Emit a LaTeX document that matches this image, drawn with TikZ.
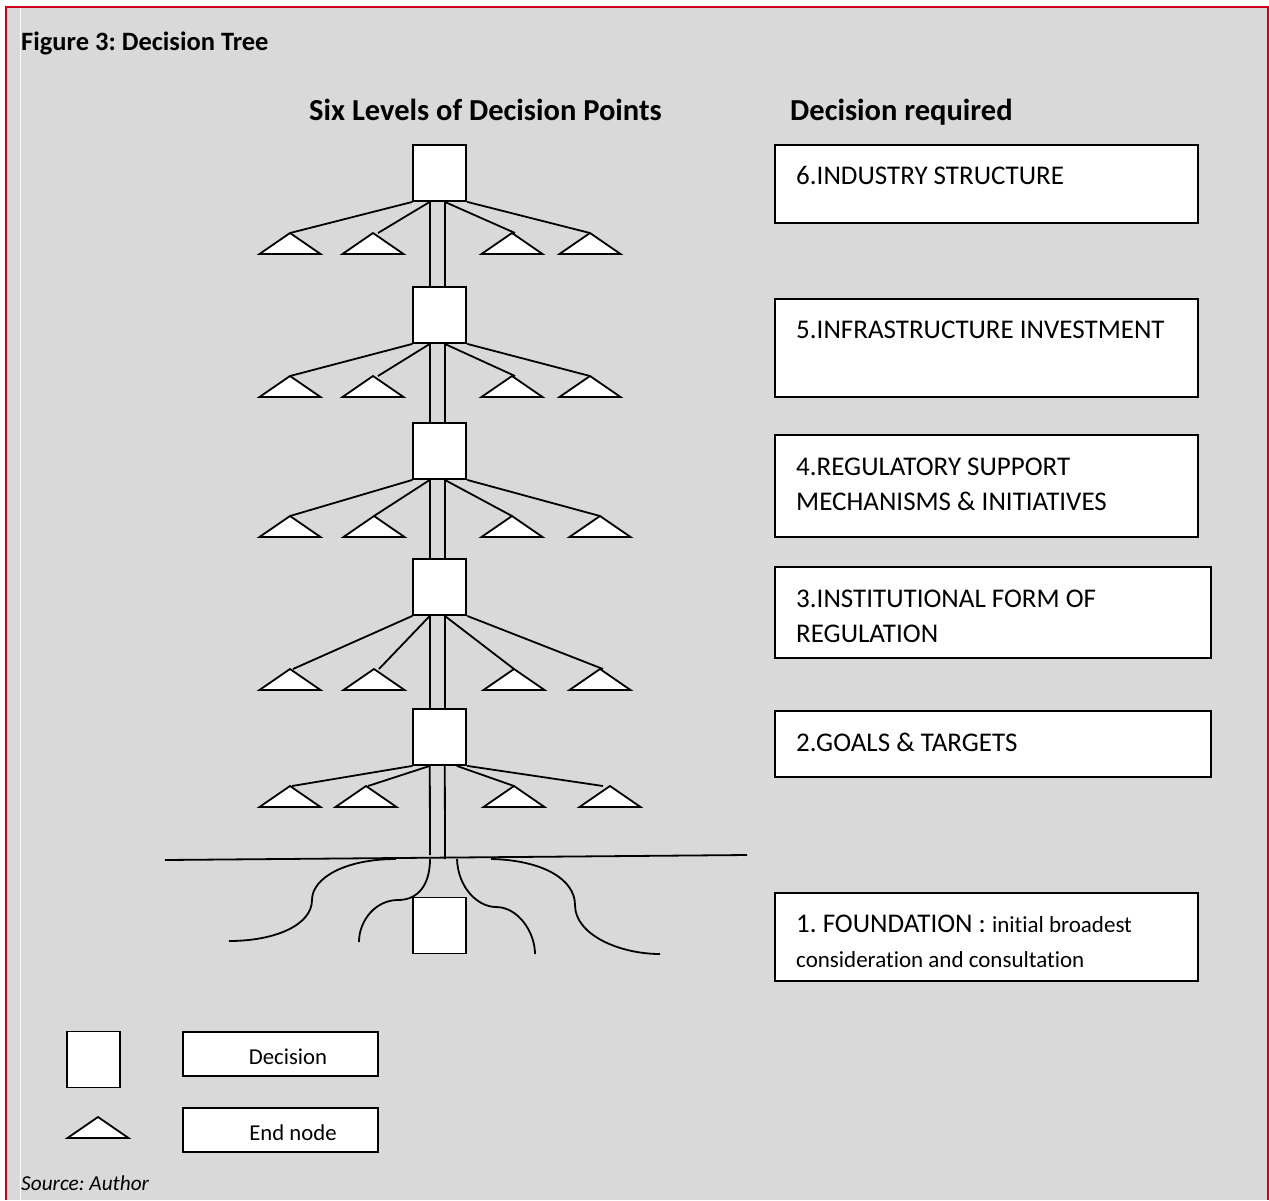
\documentclass[tikz,border=0pt]{standalone}
\usepackage{fontspec}
\setmainfont{Carlito}[Ligatures=NoCommon]
\usetikzlibrary{calc}
\frenchspacing
\definecolor{panelgray}{RGB}{217,217,217}
\definecolor{framered}{RGB}{208,2,27}
\tikzset{
  ln/.style={line width=1.8pt, line join=miter},
  decbox/.style={ln, draw=black, fill=white, minimum width=53pt, minimum height=56pt, inner sep=0pt},
  endtri/.style={ln, draw=black, fill=white},
  reqbox/.style={draw=black, line width=1.5pt, fill=white, inner sep=0pt},
  boxtext/.style={anchor=base west, inner sep=0pt, font=\fontsize{27}{32}\selectfont},
  smalltext/.style={font=\fontsize{23}{28}\selectfont},
  headtext/.style={anchor=base west, inner sep=0pt, font=\bfseries\fontsize{30.5}{36}\selectfont},
  legtext/.style={anchor=base, inner sep=0pt, font=\fontsize{22.7}{27}\selectfont},
  fan/.style={ln, draw=black}
}
% a terminal node: a flat triangle hanging below its apex
\newcommand{\leafnode}[2]{%
  \coordinate (#1) at #2;
  \draw[endtri] (#1) -- ++(-30.5,21) -- ++(61,0) -- cycle;}
\begin{document}
\begin{tikzpicture}[x=1pt,y=-1pt]
\useasboundingbox (0,0) rectangle (1269,1200);
% panel
\fill[white] (0,0) rectangle (1269,1200);
\fill[panelgray] (5.5,6.5) rectangle (1268,1200);
\draw[white!92!panelgray, line width=1pt] (20,7.5) -- (20,1200);
\draw[framered, line width=2pt] (5.5,1200) -- (5.5,6.5) -- (1268,6.5) -- (1268,1200);

% titles
\node[anchor=base west, inner sep=0pt, font=\bfseries\fontsize{26.5}{31}\selectfont] (title) at (21,50) {Figure 3: Decision Tree};
\node[headtext] (hleft) at (309,120) {Six Levels of Decision Points};
\node[headtext] (hright) at (790,120) {Decision required};

% ground line
\coordinate (g1) at (165,860);
\coordinate (g2) at (747,855);

% decision squares
\node[decbox] (d6) at (439.8,173) {};
\node[decbox] (d5) at (439.8,315) {};
\node[decbox] (d4) at (439.8,451) {};
\node[decbox] (d3) at (439.8,587) {};
\node[decbox] (d2) at (439.8,737) {};
\node[decbox] (d1) at (439.8,925.5) {};

% trunk: double line through the levels down to the ground
\coordinate (trL) at (430,855);
\coordinate (trR) at (445,859);
\draw[ln] ($(d6.south)+(-10,0)$) -- ($(d5.north)+(-10,0)$);
\draw[ln] ($(d6.south)+(5,0)$) -- ($(d5.north)+(5,0)$);
\draw[ln] ($(d5.south)+(-10,0)$) -- ($(d4.north)+(-10,0)$);
\draw[ln] ($(d5.south)+(5,0)$) -- ($(d4.north)+(5,0)$);
\draw[ln] ($(d4.south)+(-10,0)$) -- ($(d3.north)+(-10,0)$);
\draw[ln] ($(d4.south)+(5,0)$) -- ($(d3.north)+(5,0)$);
\draw[ln] ($(d3.south)+(-10,0)$) -- ($(d2.north)+(-10,0)$);
\draw[ln] ($(d3.south)+(5,0)$) -- ($(d2.north)+(5,0)$);
\draw[ln] ($(d2.south)+(-10,0)$) -- (trL);
\draw[ln] ($(d2.south)+(5,0)$) -- (trR);

% level 6
\leafnode{e61}{(290,233)}\leafnode{e62}{(373,233)}\leafnode{e63}{(512,233)}\leafnode{e64}{(590,233)}
\draw[fan] (d6.south west) -- (e61);
\draw[fan] ($(d6.south)+(-10,0)$) -- ($(e62)+(5,0)$);
\draw[fan] ($(d6.south)+(5,0)$) -- ($(e63)+(3,0)$);
\draw[fan] (d6.south east) -- (e64);
% level 5
\leafnode{e51}{(290,376)}\leafnode{e52}{(373,376)}\leafnode{e53}{(512,376)}\leafnode{e54}{(590,376)}
\draw[fan] (d5.south west) -- (e51);
\draw[fan] ($(d5.south)+(-10,0)$) -- ($(e52)+(5,0)$);
\draw[fan] ($(d5.south)+(5,0)$) -- ($(e53)+(3,0)$);
\draw[fan] (d5.south east) -- (e54);
% level 4
\leafnode{e41}{(290,516)}\leafnode{e42}{(374,516)}\leafnode{e43}{(512,516)}\leafnode{e44}{(600,516)}
\draw[fan] (d4.south west) -- (e41);
\draw[fan] ($(d4.south)+(-10,0)$) -- (e42);
\draw[fan] ($(d4.south)+(5,0)$) -- (e43);
\draw[fan] (d4.south east) -- (e44);
% level 3
\leafnode{e31}{(290,669)}\leafnode{e32}{(374,669)}\leafnode{e33}{(514,669)}\leafnode{e34}{(600,669)}
\draw[fan] (d3.south west) -- ($(e31)+(3,0)$);
\draw[fan] ($(d3.south)+(-10,0)$) -- ($(e32)+(5,0)$);
\draw[fan] ($(d3.south)+(5,0)$) -- (e33);
\draw[fan] (d3.south east) -- ($(e34)+(3,0)$);
% level 2
\leafnode{e21}{(290,786)}\leafnode{e22}{(366,786)}\leafnode{e23}{(514,786)}\leafnode{e24}{(610,786)}
\draw[fan] (d2.south west) -- ($(e21)+(2,0)$);
\draw[fan] ($(d2.south)+(-10,0)$) -- ($(e22)+(2,0)$);
\draw[fan] ($(d2.south)+(17,0)$) -- (e23);
\draw[fan] (d2.south east) -- ($(e24)+(-7,0)$);

% ground and roots
\draw[ln] (g1) -- (g2);
\coordinate (r1) at (396,859);
\coordinate (r2) at (430,859);
\coordinate (r3) at (457,859);
\coordinate (r4) at (491,859);
\draw[ln] (r1) .. controls (345,859) and (312,878) .. (312,900)
          .. controls (312,925) and (275,941) .. (229,941);
\draw[ln] (r2) .. controls (430,885) and (418,900) .. (398,900)
          .. controls (376,900) and (359,920) .. (359,942);
\draw[ln] (r3) .. controls (458,888) and (478,907) .. (496,907)
          .. controls (518,907) and (535,932) .. (535,954);
\draw[ln] (r4) .. controls (540,860) and (575,878) .. (575,905)
          .. controls (575,935) and (620,954) .. (660,954);

% decisions required
\node[reqbox, minimum width=423pt, minimum height=78pt] (b6) at (986.5,184) {};
\node[reqbox, minimum width=423pt, minimum height=98pt] (b5) at (986.5,348) {};
\node[reqbox, minimum width=423pt, minimum height=102pt] (b4) at (986.5,486) {};
\node[reqbox, minimum width=436pt, minimum height=91pt] (b3) at (993,612.5) {};
\node[reqbox, minimum width=436pt, minimum height=66pt] (b2) at (993,744) {};
\node[reqbox, minimum width=423pt, minimum height=88pt] (b1) at (986.5,937) {};

\node[boxtext] (t6) at (796,184) {6.INDUSTRY STRUCTURE};
\node[boxtext] (t5) at (796,338) {5.INFRASTRUCTURE INVESTMENT};
\node[boxtext] (t4a) at (796,475) {4.REGULATORY SUPPORT};
\node[boxtext] (t4b) at (796,510) {MECHANISMS \& INITIATIVES};
\node[boxtext] (t3a) at (796,607) {3.INSTITUTIONAL FORM OF};
\node[boxtext] (t3b) at (796,642) {REGULATION};
\node[boxtext] (t2) at (796,751) {2.GOALS \& TARGETS};
\node[boxtext] (t1a) at (796,932) {1. FOUNDATION : {\fontsize{23}{28}\selectfont initial broadest}};
\node[boxtext, smalltext] (t1b) at (796,967) {consideration and consultation};

% legend
\node[decbox] (ldec) at (93.5,1059.5) {};
\leafnode{lend}{(98,1117)}
\node[reqbox, minimum width=195pt, minimum height=44pt] (lb1) at (280.5,1054) {};
\node[reqbox, minimum width=195pt, minimum height=44pt] (lb2) at (280.5,1130) {};
\node[legtext] (lt1) at (288,1064) {Decision};
\node[legtext] (lt2) at (293,1140) {End node};

\node[anchor=base west, inner sep=0pt, font=\itshape\fontsize{21.3}{25}\selectfont] (src) at (21,1190) {Source: Author};
\end{tikzpicture}
\end{document}
